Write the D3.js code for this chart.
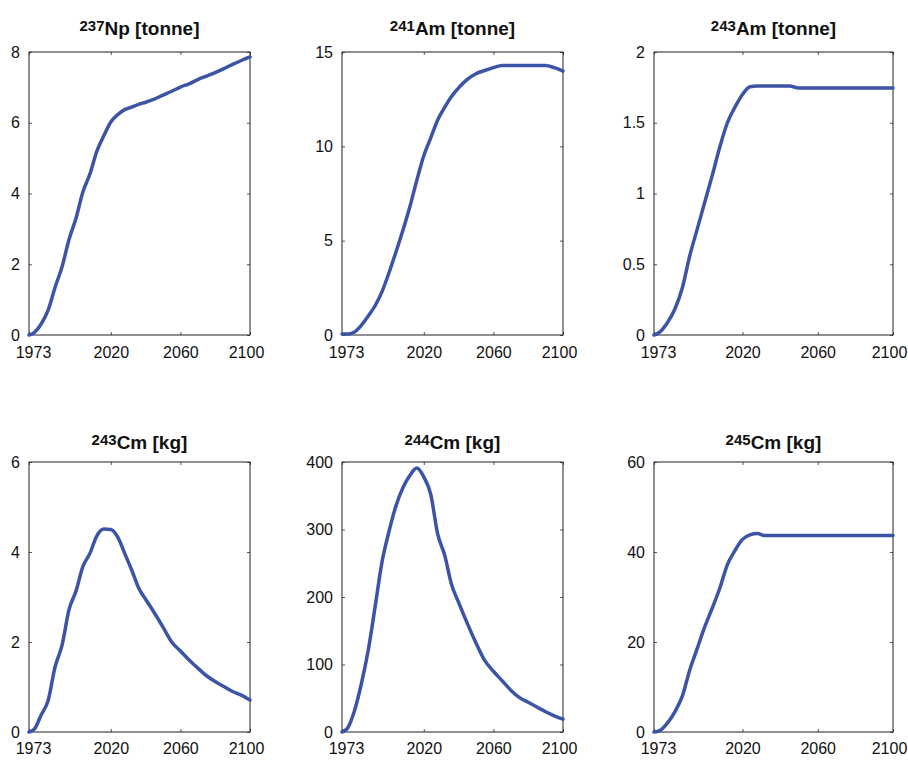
<!DOCTYPE html>
<html>
<head>
<meta charset="utf-8">
<script src="https://cdn.jsdelivr.net/npm/d3@7"></script>
<style>
  body { margin: 0; background: #fff; }
  svg { font-family: "Liberation Sans", Arial, sans-serif; }
</style>
</head>
<body>
<svg id="chart"></svg>
<script>
// sampling years
const years = [1973, 1976, 1980, 1984, 1988, 1992, 1996, 2000, 2004, 2008, 2012, 2016,
  2020, 2024, 2028, 2032, 2036, 2040, 2045, 2050, 2055, 2060, 2065, 2070, 2075, 2080,
  2085, 2090, 2095, 2100];

const np237 = [0, 0.07, 0.31, 0.7, 1.35, 1.93, 2.7, 3.3, 4.05, 4.55, 5.2, 5.63,
  6.02, 6.23, 6.37, 6.44, 6.52, 6.58, 6.67, 6.78, 6.89, 7.01, 7.1, 7.22, 7.32, 7.42,
  7.53, 7.65, 7.76, 7.86];
const am241 = [0.05, 0.05, 0.15, 0.5, 1.0, 1.55, 2.3, 3.3, 4.4, 5.55, 6.8, 8.2,
  9.5, 10.45, 11.4, 12.07, 12.65, 13.1, 13.55, 13.85, 14.02, 14.17, 14.29, 14.29, 14.29, 14.29,
  14.29, 14.29, 14.17, 13.99];
const am243 = [0, 0.02, 0.085, 0.18, 0.33, 0.56, 0.75, 0.94, 1.13, 1.33, 1.5, 1.61,
  1.7, 1.755, 1.76, 1.76, 1.76, 1.76, 1.76, 1.745, 1.745, 1.745, 1.745, 1.745, 1.745, 1.745,
  1.745, 1.745, 1.745, 1.745];
const cm243 = [0, 0.06, 0.38, 0.7, 1.45, 1.93, 2.72, 3.13, 3.68, 3.97, 4.36, 4.51,
  4.5, 4.33, 3.97, 3.6, 3.2, 2.95, 2.65, 2.33, 2.0, 1.8, 1.6, 1.42, 1.25, 1.12,
  1.01, 0.9, 0.82, 0.71];
const cm244 = [0, 5, 30, 70, 120, 185, 252, 297, 335, 362, 380, 391,
  378, 352, 293, 262, 218, 192, 161, 132, 106, 90, 76, 62, 51, 44,
  37, 30, 24, 19];
const cm245 = [0, 0.3, 1.9, 4.4, 7.9, 13.8, 18.6, 23.4, 27.6, 32.0, 37.2, 40.3,
  42.8, 43.8, 44.1, 43.65, 43.65, 43.65, 43.65, 43.65, 43.65, 43.65, 43.65, 43.65, 43.65, 43.65,
  43.65, 43.65, 43.65, 43.65];

const xTicks = [1973, 2020, 2060, 2100];
const massNumbers = ["237", "241", "243", "243", "244", "245"];
const titleNames = ["Np [tonne]", "Am [tonne]", "Am [tonne]", "Cm [kg]", "Cm [kg]", "Cm [kg]"];
const yMaxes = [8, 15, 2, 6, 400, 60];
const yTickSets = [
  [0, 2, 4, 6, 8],
  [0, 5, 10, 15],
  [0, 0.5, 1, 1.5, 2],
  [0, 2, 4, 6],
  [0, 100, 200, 300, 400],
  [0, 20, 40, 60]
];
const seriesList = [np237, am241, am243, cm243, cm244, cm245];

// panel frames in page pixels
const colBounds = [[29, 250], [342, 563], [654, 893]];
const rowBounds = [[52, 335], [462, 732]];
const titleBaselines = [35, 449];
const xLabelPadding = [12, 11];

const width = 908;
const height = 760;
const lineColor = "#3b54a5";

const svg = d3.select("#chart").attr("width", width).attr("height", height);

seriesList.forEach((values, i) => {
  const row = Math.floor(i / 3);
  const [x0, x1] = colBounds[i % 3];
  const [y0, y1] = rowBounds[row];

  const x = d3.scaleLinear().domain([1973, 2100]).range([x0, x1]);
  const y = d3.scaleLinear().domain([0, yMaxes[i]]).range([y1, y0]);

  const g = svg.append("g");

  // bottom axis with labels, ticks inward on all four sides
  const bottom = g.append("g")
    .attr("transform", `translate(0,${y1})`)
    .call(d3.axisBottom(x).tickValues(xTicks).tickFormat(d3.format("d"))
      .tickSizeInner(-3).tickSizeOuter(0).tickPadding(xLabelPadding[row]));
  // first and last year labels sit slightly inside the frame
  bottom.selectAll(".tick text")
    .attr("dx", (d) => (d === 1973 ? 4 : d === 2100 ? -4 : 0));

  g.append("g")
    .attr("transform", `translate(0,${y0})`)
    .call(d3.axisTop(x).tickValues(xTicks).tickFormat("")
      .tickSizeInner(-3).tickSizeOuter(0));
  g.append("g")
    .attr("transform", `translate(${x0},0)`)
    .call(d3.axisLeft(y).tickValues(yTickSets[i]).tickFormat((d) => String(d))
      .tickSizeInner(-3).tickSizeOuter(0).tickPadding(9));
  g.append("g")
    .attr("transform", `translate(${x1},0)`)
    .call(d3.axisRight(y).tickValues(yTickSets[i]).tickFormat("")
      .tickSizeInner(-3).tickSizeOuter(0));

  g.selectAll(".domain").remove();
  g.selectAll(".tick line").attr("stroke", "#555");
  g.selectAll(".tick text")
    .attr("fill", "#111")
    .style("font-size", "16px");

  // frame box
  g.append("rect")
    .attr("x", x0)
    .attr("y", y0)
    .attr("width", x1 - x0)
    .attr("height", y1 - y0)
    .attr("fill", "none")
    .attr("stroke", "#222")
    .attr("stroke-width", 1);

  const line = d3.line()
    .x((d, k) => x(years[k]))
    .y((d) => y(d))
    .curve(d3.curveMonotoneX);

  g.append("path")
    .datum(values)
    .attr("d", line)
    .attr("fill", "none")
    .attr("stroke", lineColor)
    .attr("stroke-width", 3.5)
    .attr("stroke-linejoin", "round")
    .attr("stroke-linecap", "round");

  // title with superscript mass number
  const title = g.append("text")
    .attr("x", (x0 + x1) / 2)
    .attr("y", titleBaselines[row])
    .attr("text-anchor", "middle")
    .style("font-weight", "bold")
    .style("font-size", "19px")
    .attr("fill", "#111");
  title.append("tspan")
    .attr("dy", -4)
    .style("font-size", "15px")
    .text(massNumbers[i]);
  title.append("tspan")
    .attr("dy", 4)
    .text(titleNames[i]);
});
</script>
</body>
</html>
